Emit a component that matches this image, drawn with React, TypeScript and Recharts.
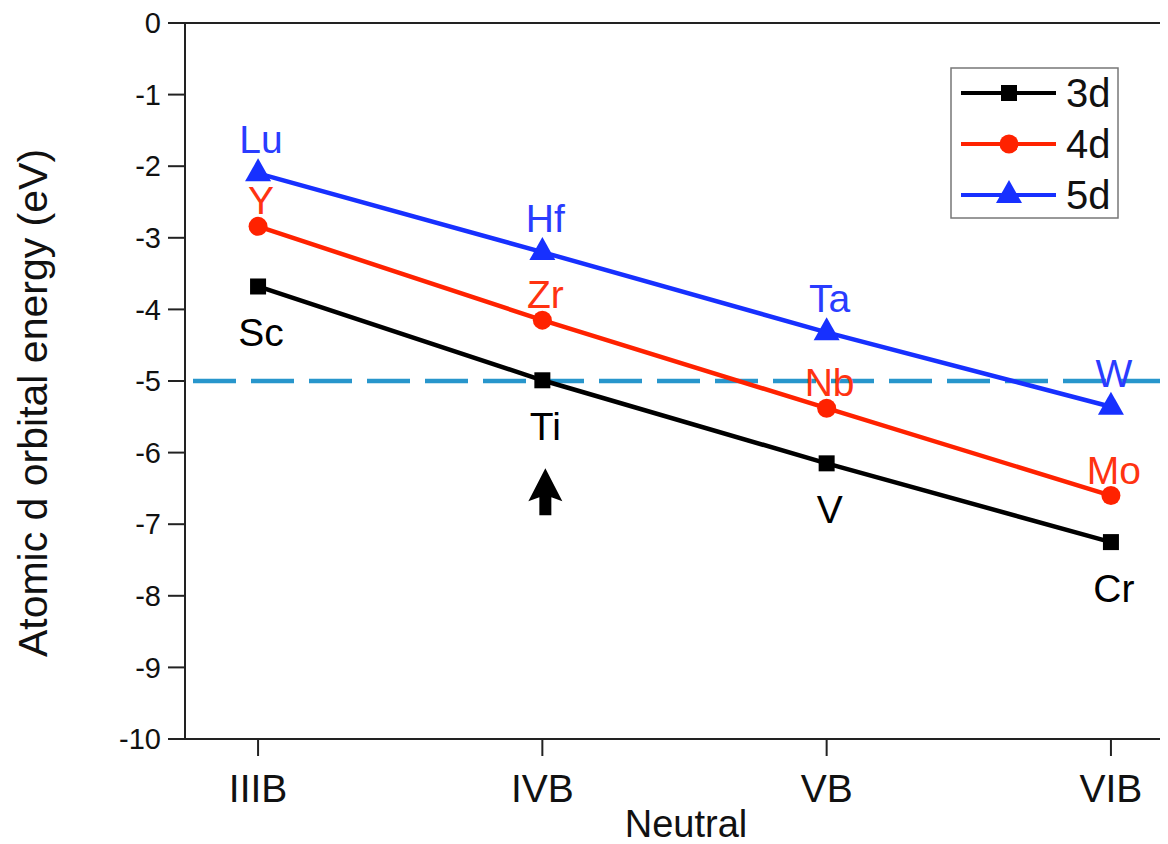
import React from 'react';
import {
  LineChart, Line, XAxis, YAxis, ReferenceLine, ReferenceDot, LabelList,
} from 'recharts';

// ---- data ----
const groups = ['IIIB', 'IVB', 'VB', 'VIB'];
const groupPos = [1, 2, 3, 4];
const elements3d = ['Sc', 'Ti', 'V', 'Cr'];
const elements4d = ['Y', 'Zr', 'Nb', 'Mo'];
const elements5d = ['Lu', 'Hf', 'Ta', 'W'];
const energy3d = [-3.68, -4.99, -6.15, -7.25];
const energy4d = [-2.84, -4.15, -5.38, -6.6];
const energy5d = [-2.1, -3.2, -4.32, -5.36];
const yTicks = [0, -1, -2, -3, -4, -5, -6, -7, -8, -9, -10];
const referenceEnergy = -5;
const arrowEnergy = -6.54;
const arrowGroup = 2;

const data = groupPos.map((x, i) => ({
  x,
  e3d: energy3d[i],
  e4d: energy4d[i],
  e5d: energy5d[i],
  n3d: elements3d[i],
  n4d: elements4d[i],
  n5d: elements5d[i],
}));

const FONT = '"Liberation Sans", Arial, Helvetica, sans-serif';
const BLACK = '#000000';
const RED = '#ff2200';
const BLUE = '#1730ff';
const RED_TEXT = '#ff3311';
const BLUE_TEXT = '#2a3cff';

type Shape = 'square' | 'circle' | 'triangle';

const Marker = ({ cx, cy, shape, color }: { cx: number; cy: number; shape: Shape; color: string }) => {
  if (cx == null || cy == null) return null;
  if (shape === 'square') {
    return <rect x={cx - 8} y={cy - 8} width={16} height={16} fill={color} />;
  }
  if (shape === 'circle') {
    return <circle cx={cx} cy={cy} r={9.5} fill={color} />;
  }
  return (
    <path
      d={`M${cx},${cy - 15} L${cx + 13},${cy + 8} L${cx - 13},${cy + 8} Z`}
      fill={color}
    />
  );
};

const series = [
  { key: 'e3d', nameKey: 'n3d', name: '3d', color: BLACK, text: BLACK, shape: 'square' as Shape, dy: 60 },
  { key: 'e4d', nameKey: 'n4d', name: '4d', color: RED, text: RED_TEXT, shape: 'circle' as Shape, dy: -12 },
  { key: 'e5d', nameKey: 'n5d', name: '5d', color: BLUE, text: BLUE_TEXT, shape: 'triangle' as Shape, dy: -20 },
];

const makeLabel = (color: string, dy: number) => (props: any) => {
  const { x, y, value } = props;
  return (
    <text
      x={x + 3}
      y={y + dy}
      textAnchor="middle"
      fill={color}
      fontSize={39}
      fontFamily={FONT}
    >
      {value}
    </text>
  );
};

const LegendBox = () => (
  <svg width={170} height={153} style={{ display: 'block' }}>
    <rect x={1} y={1} width={167} height={150} fill="#fff" stroke="#777" strokeWidth={1.5} />
    {series.map((s, i) => {
      const cy = 26 + i * 51;
      return (
        <g key={s.name}>
          <line x1={11} x2={106} y1={cy} y2={cy} stroke={s.color} strokeWidth={4} />
          <Marker cx={59} cy={cy} shape={s.shape} color={s.color} />
          <text x={116} y={cy} dy="0.36em" fontSize={40} fontFamily={FONT} fill="#111">
            {s.name}
          </text>
        </g>
      );
    })}
  </svg>
);

const YTitle = (props: any) => {
  const vb = props.viewBox || {};
  const cx = (vb.x || 0) + 25;
  const cy = (vb.y || 0) + 380;
  return (
    <text
      x={cx}
      y={cy}
      transform={`rotate(-90, ${cx}, ${cy})`}
      textAnchor="middle"
      dominantBaseline="central"
      fontSize={41}
      fontFamily={FONT}
      fill="#111"
    >
      Atomic d orbital energy (eV)
    </text>
  );
};

const XTitle = (props: any) => {
  const vb = props.viewBox || {};
  return (
    <text
      x={678}
      y={(vb.y || 0) + 98}
      textAnchor="middle"
      fontSize={38}
      fontFamily={FONT}
      fill="#111"
    >
      Neutral
    </text>
  );
};

const Arrow = (props: any) => {
  const { cx, cy } = props;
  if (cx == null || cy == null) return null;
  const x = cx + 3;
  return (
    <path
      d={`M${x},${cy - 23} L${x + 17},${cy + 10} L${x + 6},${cy + 6} L${x + 6},${cy + 24} L${x - 6},${cy + 24} L${x - 6},${cy + 6} L${x - 17},${cy + 10} Z`}
      fill="#000"
    />
  );
};

export default function App() {
  return (
    <div style={{ position: 'relative', width: 1160, height: 836, overflow: 'hidden' }}>
      <LineChart
        width={1200}
        height={836}
        data={data}
        margin={{ top: 15, right: 24, bottom: 0, left: 0 }}
      >
        <XAxis
          type="number"
          dataKey="x"
          domain={[0.743, 4.257]}
          ticks={groupPos}
          tickFormatter={(v: number) => groups[groupPos.indexOf(v)] ?? ''}
          height={105}
          tickSize={17}
          tickMargin={18}
          axisLine={{ stroke: '#222', strokeWidth: 2 }}
          tickLine={{ stroke: '#222', strokeWidth: 2 }}
          tick={{ fontSize: 39, fontFamily: FONT, fill: '#111' }}
          allowDataOverflow
          label={<XTitle />}
        />
        <YAxis
          type="number"
          domain={[-10, 0]}
          ticks={yTicks}
          interval={0}
          width={177}
          tickSize={17}
          tickMargin={7}
          axisLine={{ stroke: '#222', strokeWidth: 2 }}
          tickLine={{ stroke: '#222', strokeWidth: 2 }}
          tick={{ fontSize: 29, fontFamily: FONT, fill: '#111' }}
          allowDataOverflow
          label={<YTitle />}
        />
        <ReferenceLine y={0} stroke="#222" strokeWidth={2} />
        <ReferenceLine
          y={referenceEnergy}
          stroke="#2896cc"
          strokeWidth={4.5}
          strokeDasharray="43 15"
          strokeDashoffset={50}
        />
        <ReferenceDot x={arrowGroup} y={arrowEnergy} shape={<Arrow />} />
        {series.map((s) => (
          <Line
            key={s.key}
            type="linear"
            dataKey={s.key}
            name={s.name}
            stroke={s.color}
            strokeWidth={4.5}
            isAnimationActive={false}
            dot={(p: any) => <Marker key={`${s.key}-${p.index}`} cx={p.cx} cy={p.cy} shape={s.shape} color={s.color} />}
            activeDot={false}
          >
            <LabelList dataKey={s.nameKey} content={makeLabel(s.text, s.dy)} />
          </Line>
        ))}
      </LineChart>
      <div style={{ position: 'absolute', left: 942, top: 59 }}>
        <LegendBox />
      </div>
    </div>
  );
}
